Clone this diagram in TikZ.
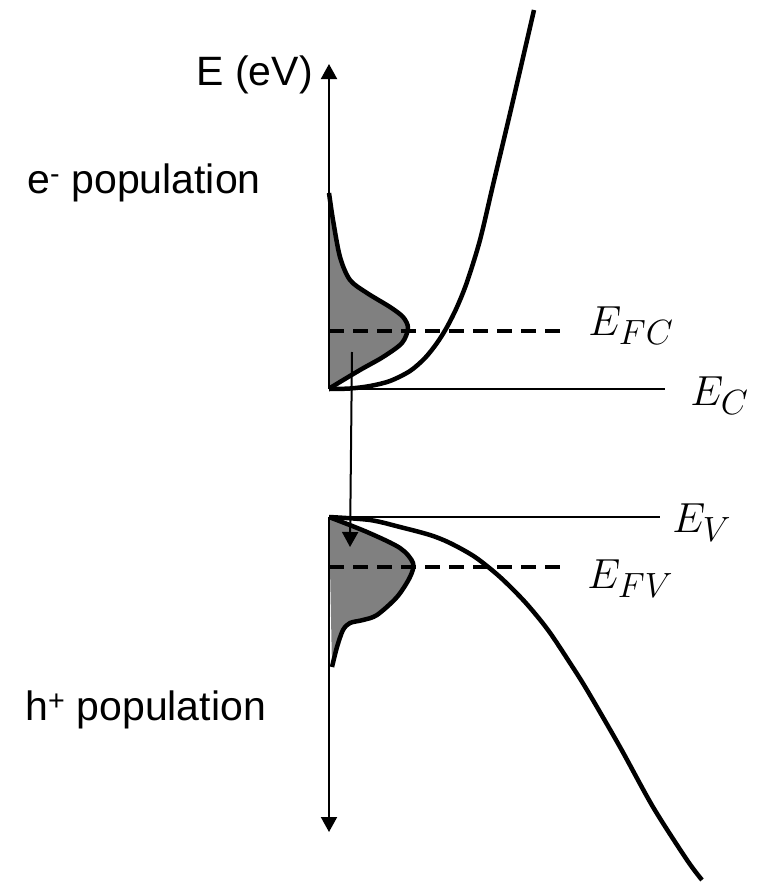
\documentclass[tikz,border=0pt]{standalone}
\usepackage{fontspec}
\setsansfont{Liberation Sans}
\usetikzlibrary{arrows.meta}

\tikzset{
  band/.style={line width=4.5pt, line join=round},
  level/.style={line width=2pt},
  fermi/.style={line width=4.5pt, dash pattern=on 15pt off 9pt},
  population/.style={fill=black!50, draw=none},
  axis/.style={line width=2pt, -{Triangle[length=15pt,width=16pt]}},
  lbl/.style={font=\sffamily\fontsize{41}{49}\selectfont, inner sep=0pt},
  mlbl/.style={font=\Huge, scale=1.69, inner sep=0pt},
}

\begin{document}
\begin{tikzpicture}[x=1pt, y=-1pt]
    \useasboundingbox (0,0) rectangle (757,889);
    % Reference points
    \coordinate (ec0) at (329,389);
    \coordinate (ec1) at (665,389);
    \coordinate (ev0) at (329,517);
    \coordinate (ev1) at (660,517);
    \coordinate (etop) at (329,64);
    \coordinate (ebot) at (329,832);
    \coordinate (fc0) at (329,331);
    \coordinate (fc1) at (567,331);
    \coordinate (fv0) at (329,567);
    \coordinate (fv1) at (567,567);
    \coordinate (recA) at (352,352);
    \coordinate (recB) at (350,547);
    % Populations (filled)
    \fill[population] plot[smooth] coordinates {(329,193) (333,220) (340,257)
        (350,280) (367,293) (390,307) (403,317) (408,328) (402,343) (383,357)
        (360,370) (330,388)} -- cycle;
    \fill[population] plot[smooth] coordinates {(329,517) (367,532) (400,548)
        (413,563) (410,577) (397,597) (377,615) (363,620) (350,623) (343,630)
        (337,647) (332,667)} -- cycle;
    % Axes
    \draw[axis] (ec0) -- (etop);
    \draw[axis] (ev0) -- (ebot);
    % Band edges
    \draw[level] (ec0) -- (ec1);
    \draw[level] (ev0) -- (ev1);
    % Quasi-Fermi levels
    \draw[fermi] (fc0) -- (fc1);
    \draw[fermi] (fv0) -- (fv1);
    % Population outlines
    \draw[band] plot[smooth] coordinates {(329,193) (333,220) (340,257)
        (350,280) (367,293) (390,307) (403,317) (408,328) (402,343) (383,357)
        (360,370) (330,388)};
    \draw[band] plot[smooth] coordinates {(329,517) (367,532) (400,548)
        (413,563) (410,577) (397,597) (377,615) (363,620) (350,623) (343,630)
        (337,647) (332,667)};
    % Conduction and valence bands
    \draw[band] plot[smooth] coordinates {(329,389) (350,388.5) (370,386)
        (390,381) (410,371) (425,358) (437,343) (447,327) (457,307) (467,282)
        (480,240) (493,185) (512,105) (534,10)};
    \draw[band] plot[smooth] coordinates {(329,517) (370,520) (400,527)
        (430,535) (450,543) (475,557) (500,577) (525,602) (548,630) (570,663)
        (587,690) (620,747) (653,807) (687,860) (702,880)};
    % Recombination
    \draw[axis] (recA) -- (recB);
    % Labels
    \node[lbl, anchor=base east] (energy) at (313,85) {E (eV)};
    \node[lbl, anchor=base west] (epop) at (27,193) {e\textsuperscript{-} population};
    \node[lbl, anchor=base west] (hpop) at (25,720) {h\textsuperscript{+} population};
    \node[mlbl, anchor=base west] (efc) at (588,335) {$E_{FC}$};
    \node[mlbl, anchor=base west] (ecl) at (690,405) {$E_{C}$};
    \node[mlbl, anchor=base west] (evl) at (672,532) {$E_{V}$};
    \node[mlbl, anchor=base west] (efv) at (587,588) {$E_{FV}$};
\end{tikzpicture}
\end{document}
